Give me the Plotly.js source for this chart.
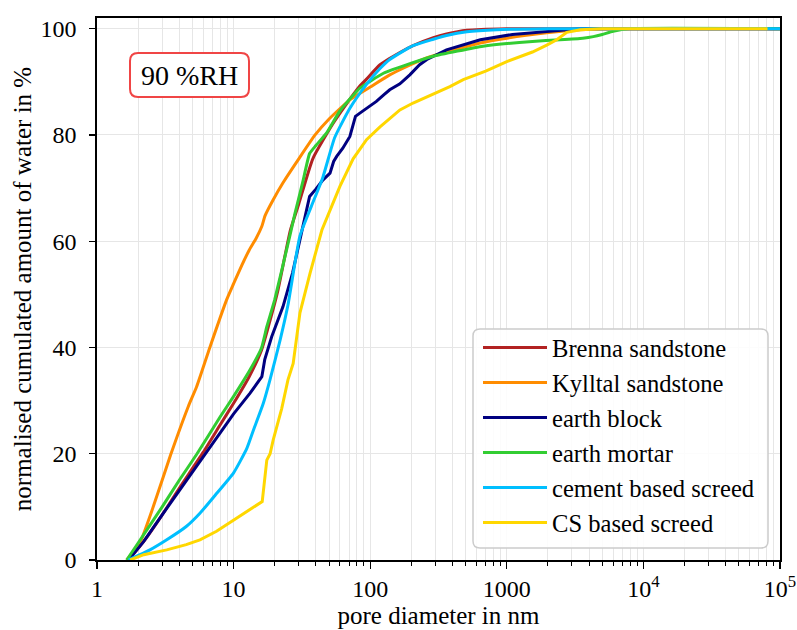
<!DOCTYPE html>
<html>
<head>
<meta charset="utf-8">
<script src="https://cdn.plot.ly/plotly-3.0.1.min.js"></script>
<style>html,body{margin:0;padding:0;background:#fff;}#chart{width:797px;height:630px;}</style>
</head>
<body>
<div id="chart"></div>
<script>
// ---- data (pore diameter in nm, normalised cumulated amount of water in %) ----
const seriesNames = ["Brenna sandstone", "Kylltal sandstone", "earth block", "earth mortar", "cement based screed", "CS based screed"];

const brennaX = [1.7, 2.2, 3, 4, 6, 8, 10, 13, 16, 18, 21, 26, 30, 38, 53, 70, 84, 94, 118, 165, 206, 290, 362, 510, 1000, 100000];
const brennaY = [0, 3.5, 8.5, 13.5, 20.3, 25.5, 29.5, 34.5, 39.5, 44, 50.5, 62, 67, 75.5, 82, 86.5, 89.2, 90.5, 93.2, 95.5, 96.8, 98.3, 99, 99.7, 100, 100];

const kylltalX = [1.65, 2.06, 2.58, 3.46, 4.66, 5.36, 6.7, 8.9, 10, 11.5, 13, 14.6, 16.1, 17, 19.5, 23, 30, 39.5, 50, 71, 100, 139, 258, 640, 1000, 1960, 3460, 5000, 100000];
const kylltalY = [0, 3.2, 10, 19.8, 28.9, 32.6, 40, 49, 52, 55.5, 58.3, 60.5, 62.8, 64.8, 67.8, 71, 75.5, 80, 83, 86.6, 89, 91.3, 94.5, 97.3, 98.2, 99.2, 99.8, 100, 100];

const earthBlockX = [1.7, 2.2, 3, 4, 6.2, 8, 10, 13.2, 16.1, 16.9, 19, 23, 27, 30.6, 33, 36, 40, 45, 50.8, 54, 57, 63, 71, 78, 84, 100, 111, 125, 139, 165, 195, 230, 260, 362, 640, 1100, 1960, 3500, 100000];
const earthBlockY = [0, 3.5, 8.5, 13, 20, 24, 27.5, 31.4, 34.5, 37.7, 42, 47.7, 54, 60.3, 64, 68.4, 69.8, 71.5, 72.8, 75, 76, 77.5, 79.7, 83.5, 84.1, 85.5, 86.3, 87.5, 88.5, 89.6, 91.3, 93.2, 94.2, 96, 97.9, 98.9, 99.5, 100, 100];

const earthMortarX = [1.65, 2, 3, 4, 5.4, 8, 10, 13.2, 16, 17.5, 20, 25.8, 28, 32, 36, 40, 48, 60, 84, 125, 200, 289, 670, 1540, 2450, 3600, 4300, 5000, 6000, 7900, 100000];
const earthMortarY = [0, 3.2, 10, 15, 20, 27, 30.8, 35.8, 39.9, 43.9, 49, 61, 65, 71, 76.5, 78, 80.4, 84.5, 88.8, 91.6, 93.5, 94.8, 96.7, 97.6, 97.9, 98.2, 98.5, 98.9, 99.5, 100, 100];

const cementX = [1.7, 2.44, 3.24, 4.5, 5.67, 7.5, 10, 12.5, 14, 16.5, 18.5, 21.9, 25, 30.6, 37, 45, 55, 71, 94, 118, 139, 206, 290, 362, 510, 845, 2000, 100000];
const cementY = [0, 1.9, 3.8, 6.3, 8.8, 12.5, 16.4, 21, 24.5, 29.5, 34, 41.4, 48, 61, 66.5, 72, 79.5, 85, 89.5, 92.5, 94.2, 96.8, 98, 98.7, 99.4, 99.8, 100, 100];

const csX = [1.75, 2.2, 3.24, 4.5, 5.67, 7.5, 9.97, 12.5, 16.2, 17.5, 18.5, 19.5, 21, 22.5, 25, 27.3, 30.6, 36.3, 44.3, 60, 75, 94, 118, 165, 206, 290, 383, 480, 700, 1000, 1540, 1960, 2320, 2750, 3460, 5000, 81000];
const csY = [0, 1, 1.9, 2.9, 3.8, 5.4, 7.5, 9.2, 11, 18.8, 20, 22.6, 25.5, 28.5, 33.9, 37, 46.5, 54, 62.1, 70.3, 75.5, 79.1, 81.5, 84.7, 86, 87.7, 89.1, 90.4, 92, 93.8, 95.6, 96.9, 97.9, 99.3, 99.8, 100, 100];

const seriesColors = ["#b22222", "#ff8c00", "#000080", "#32cd32", "#00bfff", "#ffd700"];
const seriesSmooth = [0.5, 0.5, 0, 0.4, 0.5, 0];

const xTickVals = [1, 10, 100, 1000, 10000, 100000];
const xTickText = ["1", "10", "100", "1000", "10<sup>4</sup>", "10<sup>5</sup>"];
const yTickVals = [0, 20, 40, 60, 80, 100];
const annotationText = "90 %RH";

// ---- figure ----
const xs = [brennaX, kylltalX, earthBlockX, earthMortarX, cementX, csX];
const ys = [brennaY, kylltalY, earthBlockY, earthMortarY, cementY, csY];

const traces = seriesNames.map((n, i) => ({
  x: xs[i], y: ys[i], name: n, type: 'scatter', mode: 'lines',
  line: seriesSmooth[i] > 0
    ? {color: seriesColors[i], width: 3, shape: 'spline', smoothing: seriesSmooth[i]}
    : {color: seriesColors[i], width: 3}
}));

const W = 797, H = 630, L = 97, R = 17, T = 18, B = 70;
const pw = W - L - R, ph = H - T - B;
const px = v => (v - L) / pw;
const py = v => (H - B - v) / ph;

function roundRect(x0, y0, x1, y1, r) {
  const rx = r / pw, ry = r / ph;
  const a = px(x0), b = px(x1), c = py(y1), d = py(y0);
  return `M ${a + rx},${d} L ${b - rx},${d} Q ${b},${d} ${b},${d - ry} L ${b},${c + ry} Q ${b},${c} ${b - rx},${c} L ${a + rx},${c} Q ${a},${c} ${a},${c + ry} L ${a},${d - ry} Q ${a},${d} ${a + rx},${d} Z`;
}

const font = '"Liberation Serif", "Times New Roman", Times, serif';
const gridCol = '#e6e6e6';

const layout = {
  width: W, height: H,
  margin: {l: L, r: R, t: T, b: B},
  paper_bgcolor: '#fff', plot_bgcolor: '#fff',
  font: {family: font, size: 24, color: '#000'},
  showlegend: true,
  legend: {
    x: px(478), y: py(325), xanchor: 'left', yanchor: 'top',
    bgcolor: 'rgba(0,0,0,0)', borderwidth: 0,
    font: {family: font, size: 24.6, color: '#000'},
    itemwidth: 64
  },
  xaxis: {
    type: 'log', range: [0, 5],
    tickvals: xTickVals, ticktext: xTickText,
    ticks: 'outside', ticklen: 7, tickwidth: 1.3, tickcolor: '#000',
    showline: true, linecolor: '#000', linewidth: 1.6, mirror: true,
    showgrid: true, gridcolor: gridCol, gridwidth: 1,
    zeroline: false,
    minor: {dtick: 'D1', ticks: 'outside', ticklen: 4, tickwidth: 1, tickcolor: '#000', showgrid: true, gridcolor: gridCol, gridwidth: 1},
    tickfont: {family: font, size: 24, color: '#000'},
    title: {text: 'pore diameter in nm', font: {family: font, size: 25, color: '#000'}, standoff: 3}
  },
  yaxis: {
    range: [0, 102],
    tickvals: yTickVals,
    ticks: 'outside', ticklen: 6, tickwidth: 1.3, tickcolor: '#000',
    ticklabelstandoff: 8,
    showline: true, linecolor: '#000', linewidth: 1.6, mirror: true,
    showgrid: true, gridcolor: gridCol, gridwidth: 1,
    zeroline: false,
    tickfont: {family: font, size: 24, color: '#000'},
    title: {text: 'normalised cumulated amount of water in %', font: {family: font, size: 25, color: '#000'}, standoff: 2}
  },
  shapes: [
    {type: 'path', xref: 'paper', yref: 'paper', path: roundRect(473, 329, 768, 548, 7),
     fillcolor: 'rgba(255,255,255,0.85)', line: {color: '#cccccc', width: 1.5}, layer: 'above'},
    {type: 'path', xref: 'paper', yref: 'paper', path: roundRect(130, 53, 249, 97, 8),
     fillcolor: '#ffffff', line: {color: '#f04545', width: 2}, layer: 'above'}
  ],
  annotations: [
    {xref: 'paper', yref: 'paper', x: px(189.5), y: py(75), xanchor: 'center', yanchor: 'middle',
     text: annotationText, showarrow: false, font: {family: font, size: 28, color: '#000'}}
  ]
};

Plotly.newPlot('chart', traces, layout, {displayModeBar: false, staticPlot: true});
</script>
</body>
</html>
